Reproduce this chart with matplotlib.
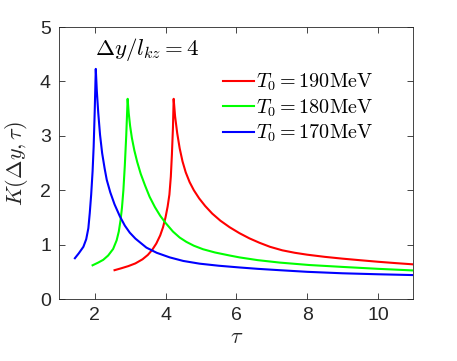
import matplotlib
matplotlib.use("Agg")
import matplotlib.pyplot as plt

plt.rcParams['font.family'] = ['Liberation Sans', 'DejaVu Sans']
plt.rcParams['mathtext.fontset'] = 'cm'

# T0 = 170 MeV (blue)
tau_170 = [1.44, 1.55, 1.68, 1.76, 1.82, 1.86, 1.90, 1.94, 1.97, 2.00, 2.03,
           2.06, 2.10, 2.15, 2.21, 2.28, 2.34, 2.44, 2.56, 2.71, 2.85, 2.99, 3.15,
           3.30, 3.46, 3.75, 4.12, 4.50, 4.96, 5.5, 6.09, 6.6, 7.22, 8.0, 9.0,
           10.0, 11.0]
K_170 = [0.75, 0.84, 0.96, 1.10, 1.30, 1.58, 1.92, 2.35, 2.80, 3.45, 4.23,
         3.82, 3.42, 3.02, 2.68, 2.40, 2.19, 1.96, 1.74, 1.52, 1.35, 1.22, 1.11,
         1.03, 0.945, 0.85, 0.765, 0.70, 0.65, 0.612, 0.58, 0.555, 0.53, 0.50, 0.473,
         0.455, 0.44]

# T0 = 180 MeV (green)
tau_180 = [1.94, 2.10, 2.24, 2.38, 2.52, 2.62, 2.68, 2.73, 2.77, 2.81, 2.85, 2.89,
           2.93, 2.96, 3.00, 3.05, 3.12, 3.20, 3.30, 3.42, 3.55, 3.70, 3.85, 4.00,
           4.21, 4.40, 4.59, 4.80, 5.06, 5.40, 5.81, 6.09, 6.6, 7.22, 8.06, 9.0,
           10.0, 11.0]
K_180 = [0.62, 0.67, 0.72, 0.80, 0.92, 1.08, 1.24, 1.45, 1.68, 2.00, 2.45, 3.00,
         3.68, 3.42, 3.18, 2.96, 2.73, 2.52, 2.30, 2.09, 1.88, 1.69, 1.53, 1.40,
         1.24, 1.13, 1.05, 0.98, 0.915, 0.855, 0.80, 0.765, 0.715, 0.67, 0.625, 0.59,
         0.555, 0.525]

# T0 = 190 MeV (red)
tau_190 = [2.56, 2.75, 2.95, 3.15, 3.35, 3.50, 3.62, 3.74, 3.85, 3.93, 4.00, 4.06,
           4.11, 4.15, 4.18, 4.21, 4.23, 4.27, 4.33, 4.40, 4.48, 4.57, 4.68, 4.80,
           4.95, 5.12, 5.32, 5.55, 5.81, 6.09, 6.37, 6.65, 6.95, 7.3, 7.65, 8.0,
           8.5, 9.0, 9.5, 10.0, 10.5, 11.0]
K_190 = [0.53, 0.565, 0.605, 0.655, 0.73, 0.81, 0.90, 1.02, 1.17, 1.32, 1.50, 1.70,
         1.92, 2.25, 2.65, 3.15, 3.68, 3.36, 3.05, 2.77, 2.53, 2.33, 2.15, 2.00,
         1.85, 1.71, 1.57, 1.44, 1.32, 1.21, 1.115, 1.035, 0.96, 0.895, 0.85, 0.815,
         0.775, 0.742, 0.713, 0.685, 0.66, 0.637]

labels = [r'$T_0=190\mathrm{MeV}$', r'$T_0=180\mathrm{MeV}$', r'$T_0=170\mathrm{MeV}$']
xticks = [2, 4, 6, 8, 10]
yticks = [0, 1, 2, 3, 4, 5]

fig = plt.figure(figsize=(4.57, 3.61), dpi=100)
ax = fig.add_axes([0.1298, 0.1717, 0.7746, 0.7535])

ax.plot(tau_190, K_190, color=(1, 0, 0), lw=1.5, label=labels[0])
ax.plot(tau_180, K_180, color=(0, 1, 0), lw=1.5, label=labels[1])
ax.plot(tau_170, K_170, color=(0, 0, 1), lw=1.5, label=labels[2])

ax.set_xlim(1, 11)
ax.set_ylim(0, 5)
ax.set_xticks(xticks)
ax.set_yticks(yticks)
ax.tick_params(direction='in', top=True, right=True, length=4, width=0.6,
               labelsize=14, colors='#262626', pad=6)
for s in ax.spines.values():
    s.set_color('#262626')
    s.set_linewidth(0.6)

ax.set_xlabel(r'$\tau$', fontsize=16, color='#262626', labelpad=2)
ax.set_ylabel(r'$K(\Delta y,\tau)$', fontsize=16, color='#262626', labelpad=7)

ax.text(2.0, 4.59, r'$\Delta y/l_{kz}=4$', fontsize=16.5, ha='left', va='center',
        transform=ax.transData)

leg = ax.legend(loc='upper left', bbox_to_anchor=(0.4616, 0.835), frameon=False,
                fontsize=14.5, handlelength=1.57, handletextpad=0.1,
                labelspacing=0.2, borderpad=0.0, borderaxespad=0)

fig.savefig('out.png', dpi=100)
